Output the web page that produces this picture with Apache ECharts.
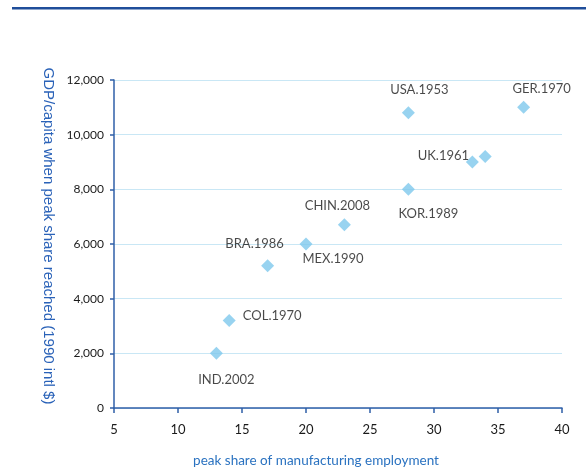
<!DOCTYPE html>
<html><head><meta charset="utf-8">
<script src="https://cdn.jsdelivr.net/npm/echarts@6/dist/echarts.min.js"></script>
<style>html,body{margin:0;padding:0;background:#fff}#c{width:586px;height:468px}</style>
</head><body><div id="c"></div>
<script>
var labels = ['IND.2002','COL.1970','BRA.1986','MEX.1990','CHIN.2008','KOR.1989','USA.1953','UK.1961','','GER.1970'];
var shares = [13, 14, 17, 20, 23, 28, 28, 33, 34, 37];
var gdp    = [2000, 3200, 5200, 6000, 6700, 8000, 10800, 9000, 9200, 11000];
var xTicks = [5, 10, 15, 20, 25, 30, 35, 40];
var yTicks = [0, 2000, 4000, 6000, 8000, 10000, 12000];

var labelOffsets = [[10,26],[43,-5],[-13,-22],[27,15],[-7,-19],[20,24],[11,-23],[-29,-6],[0,0],[18,-19]];
var FONT = 'Lato, "Open Sans", sans-serif';

var data = shares.map(function(s,i){
  return {value:[s, gdp[i]], name: labels[i],
    label:{show: labels[i] !== '', position:'inside', offset: labelOffsets[i], formatter: labels[i]}};
});

var chart = echarts.init(document.getElementById('c'));
chart.setOption({
  animation:false,
  grid:{left:114, right:24, top:80, bottom:60},
  graphic:[
    {type:'rect', shape:{x:12,y:7,width:574,height:2.5}, style:{fill:'#1f4e9a'}},
    {type:'text', x:48, y:236, rotation:-Math.PI/2,
      style:{text:'GDP/capita when peak share reached (1990 intl $)', fill:'#2a62b8',
        font:'15px "Liberation Sans", Arial, sans-serif', align:'center', verticalAlign:'middle'}},
    {type:'text', x:316, y:461,
      style:{text:'peak share of manufacturing employment', fill:'#2a72c0',
        font:'13.5px '+FONT, align:'center', verticalAlign:'middle'}}
  ],
  xAxis:{type:'value', min:xTicks[0], max:xTicks[xTicks.length-1], interval:5,
    axisLine:{lineStyle:{color:'#2f5fa8', width:1.5}},
    axisTick:{show:true, inside:false, length:5, lineStyle:{color:'#2f5fa8', width:1.5}},
    axisLabel:{color:'#1a1a1a', fontSize:13, fontFamily:FONT, margin:15},
    splitLine:{show:false}},
  yAxis:{type:'value', min:yTicks[0], max:yTicks[yTicks.length-1], interval:2000,
    axisLine:{show:true, lineStyle:{color:'#2f5fa8', width:1.5}},
    axisTick:{show:true, length:4, lineStyle:{color:'#2f5fa8', width:1.5}},
    axisLabel:{color:'#1a1a1a', fontSize:12, fontFamily:FONT, margin:10,
      formatter:function(v){return v.toLocaleString('en-US');}},
    splitLine:{show:true, lineStyle:{color:'#c9e7f5', width:1}}},
  series:[{type:'scatter', symbol:'diamond', symbolSize:13,
    itemStyle:{color:'#7ec8ec'},
    label:{color:'#1a1a1a', fontSize:13, fontFamily:FONT, align:'center', verticalAlign:'middle'},
    data:data}]
});
</script></body></html>
